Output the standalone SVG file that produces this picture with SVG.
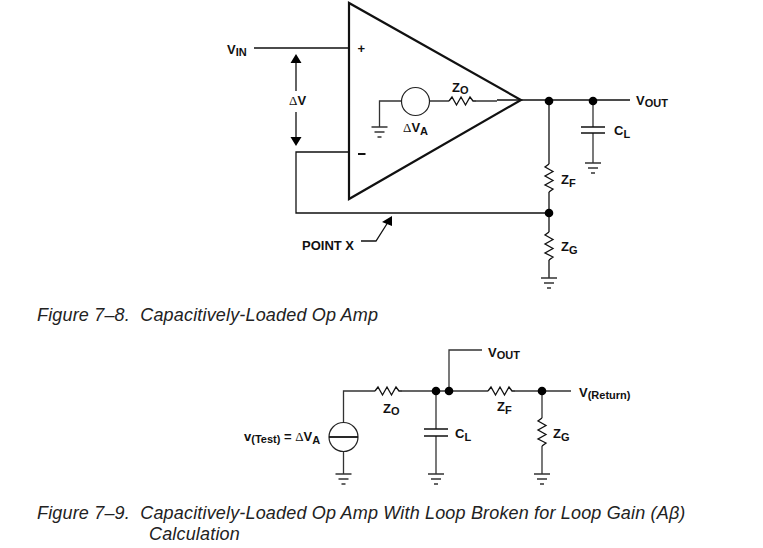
<svg xmlns="http://www.w3.org/2000/svg" width="763" height="548" viewBox="0 0 763 548">
<style>
.w{fill:none;stroke:#111;stroke-width:1.3}
.g{fill:none;stroke:#333;stroke-width:1.3}
.d{fill:#000}
.t{font-family:"Liberation Sans",Arial,sans-serif;font-weight:bold;font-size:13px;fill:#111}
.s{font-size:11px}
.c{font-family:"Liberation Sans",Arial,sans-serif;font-style:italic;font-size:18px;letter-spacing:.17px;fill:#222}
</style>
<defs>
<g id="gnd" class="g"><path d="M-8 0H8M-5 5H5M-2 10H2"/></g>
<path id="rh" class="w" d="M0 0L3 -4L7.500 4L12 -4L16.500 4L21 -4L24 0L27 0"/>
<path id="rv" class="w" d="M0 0L-4 3L4 7.500L-4 12L4 16.500L-4 21L4 25L0 28"/>
</defs>
<rect width="763" height="548" fill="#fff"/>
<g id="connectors">
<path class="w" d="M254 48H349M296 63V91M296 112V138M349 152H296V213H549M361 241H376L390 219"/>
<path class="g" d="M401 101H379.500V127M430 101H449M476 101H497"/>
<path class="w" d="M497 100H630M549 100V164M549 192V213M549 213V232M549 260V278"/>
<path class="g" d="M593 100V127M593 133V163"/>
<path class="g" d="M343.500 423V391H375M343.500 452V474M402 391H449M449 391V350H482M436 391V429M436 436V474M515 391H571M542 391V418M542 446V474M449 391H488"/>
<path d="M296 54L301.500 63H290.500ZM296 146L290.500 137H301.500ZM392 216L392 226L382 222Z" fill="#000"/>
</g>
<g id="opamp">
<path d="M349 3V199L521 100Z" fill="none" stroke="#111" stroke-width="2.200"/>
<text class="t" x="357.500" y="52.500">+</text>
<rect x="358" y="153" width="7.500" height="2" fill="#111"/>
</g>
<g id="source-a"><circle cx="415.500" cy="101.500" r="14" fill="none" stroke="#222" stroke-width="1.200"/><use href="#gnd" x="379.500" y="127"/></g>
<g id="zo"><use href="#rh" x="449" y="101"/></g>
<g id="nodes1">
<circle class="d" cx="549" cy="101" r="4.300"/><circle class="d" cx="593" cy="101" r="4.300"/><circle class="d" cx="549" cy="213" r="4.300"/>
</g>
<g id="cl"><path class="w" d="M581 127H605M581 133H605"/><use href="#gnd" x="593" y="163"/></g>
<g id="zf"><use href="#rv" x="549" y="164"/></g>
<g id="zg"><use href="#rv" x="549" y="232"/><use href="#gnd" x="549" y="278"/></g>
<g id="labels1">
<text class="t" x="227" y="54">V<tspan class="s" dy="2">IN</tspan></text>
<text class="t" x="289" y="105"><tspan font-family="'Liberation Serif',serif" font-weight="normal">Δ</tspan>V</text>
<text class="t" x="403" y="132"><tspan font-family="'Liberation Serif',serif" font-weight="normal">Δ</tspan>V<tspan class="s" dy="3">A</tspan></text>
<text class="t" x="452" y="92">Z<tspan class="s" dy="2">O</tspan></text>
<text class="t" x="636" y="105">V<tspan class="s" dy="2">OUT</tspan></text>
<text class="t" x="614" y="135">C<tspan class="s" dy="3">L</tspan></text>
<text class="t" x="561" y="184">Z<tspan class="s" dy="3">F</tspan></text>
<text class="t" x="561" y="251">Z<tspan class="s" dy="3">G</tspan></text>
<text class="t" x="302" y="250">POINT X</text>
</g>
<text class="c" x="37" y="321" xml:space="preserve">Figure 7–8.  Capacitively-Loaded Op Amp</text>
<g id="source-test"><circle cx="343.500" cy="437" r="14.500" fill="none" stroke="#222" stroke-width="1.200"/><path d="M329 437H358" stroke="#111" stroke-width="1.800"/><use href="#gnd" x="343.500" y="474"/></g>
<g id="zo2"><use href="#rh" x="375" y="391"/></g>
<g id="zf2"><use href="#rh" x="488" y="391"/></g>
<g id="zg2"><use href="#rv" x="542" y="418"/><use href="#gnd" x="542" y="474"/></g>
<g id="cl2"><path class="w" d="M424 429H448M424 436H448"/><use href="#gnd" x="436" y="474"/></g>
<g id="nodes2">
<circle class="d" cx="436" cy="391" r="4.300"/><circle class="d" cx="449" cy="391" r="4.300"/><circle class="d" cx="542" cy="391" r="4.300"/>
</g>
<g id="labels2">
<text class="t" x="488" y="357">V<tspan class="s" dy="2">OUT</tspan></text>
<text class="t" x="579" y="397">V<tspan class="s" dy="2">(Return)</tspan></text>
<text class="t" x="383" y="413">Z<tspan class="s" dy="2">O</tspan></text>
<text class="t" x="497" y="411">Z<tspan class="s" dy="3">F</tspan></text>
<text class="t" x="455" y="438">C<tspan class="s" dy="3">L</tspan></text>
<text class="t" x="553" y="438">Z<tspan class="s" dy="3">G</tspan></text>
<text class="t" x="244" y="441">v<tspan class="s" dy="2">(Test)</tspan><tspan dy="-2"> = </tspan><tspan font-family="'Liberation Serif',serif" font-weight="normal">Δ</tspan>V<tspan class="s" dy="3">A</tspan></text>
</g>
<text class="c" x="37" y="519" xml:space="preserve">Figure 7–9.  Capacitively-Loaded Op Amp With Loop Broken for Loop Gain (Aβ)</text>
<text class="c" x="149" y="540">Calculation</text>
</svg>
